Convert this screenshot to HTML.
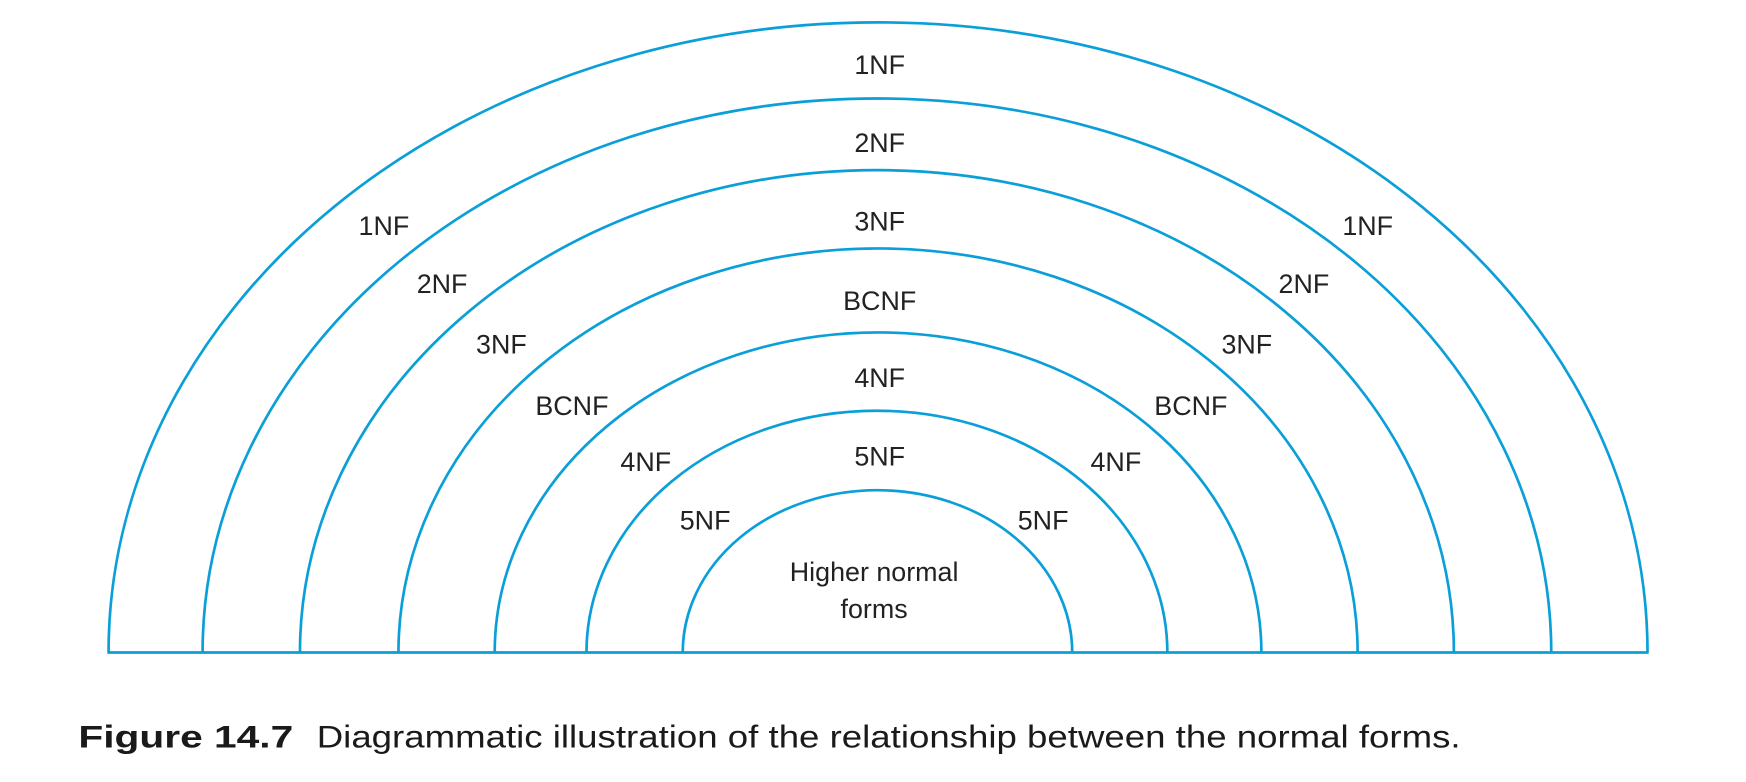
<!DOCTYPE html>
<html><head><meta charset="utf-8"><style>html,body{margin:0;padding:0;background:#fff}svg{display:block}</style></head>
<body>
<svg width="1746" height="782" viewBox="0 0 1560 698.7" preserveAspectRatio="none" xmlns="http://www.w3.org/2000/svg">
<g fill="none" stroke="#0a9fd8" stroke-width="2.4">
<path d="M97,583 A687.5,563 0 0 1 1472,583"/>
<path d="M181,583 A602.5,495 0 0 1 1386,583"/>
<path d="M268,583 A515.5,431 0 0 1 1299,583"/>
<path d="M356,583 A428.5,361 0 0 1 1213,583"/>
<path d="M442,583 A342.5,286 0 0 1 1127,583"/>
<path d="M524,583 A259.5,216 0 0 1 1043,583"/>
<path d="M610,583 A174,145 0 0 1 958,583"/>
<line x1="96" y1="583" x2="1473" y2="583"/>
</g>
<g font-family="Liberation Sans, sans-serif" font-size="24" fill="#222" text-anchor="middle">
<text x="786" y="66">1NF</text>
<text x="786" y="136">2NF</text>
<text x="786" y="206">3NF</text>
<text x="786" y="277">BCNF</text>
<text x="786" y="346">4NF</text>
<text x="786" y="416">5NF</text>
<text x="343" y="210">1NF</text>
<text x="395" y="262">2NF</text>
<text x="448" y="316">3NF</text>
<text x="511" y="371">BCNF</text>
<text x="577" y="421">4NF</text>
<text x="630" y="473">5NF</text>
<text x="1222" y="210">1NF</text>
<text x="1165" y="262">2NF</text>
<text x="1114" y="316">3NF</text>
<text x="1064" y="371">BCNF</text>
<text x="997" y="421">4NF</text>
<text x="932" y="473">5NF</text>
<text x="781" y="519">Higher normal</text>
<text x="781" y="552">forms</text>
</g>
<g font-family="Liberation Sans, sans-serif" font-size="28" fill="#1a1a1a">
<text x="70" y="668" font-weight="bold" textLength="192" lengthAdjust="spacingAndGlyphs">Figure 14.7</text>
<text x="283" y="668" textLength="1022" lengthAdjust="spacingAndGlyphs">Diagrammatic illustration of the relationship between the normal forms.</text>
</g>
</svg>
</body></html>
